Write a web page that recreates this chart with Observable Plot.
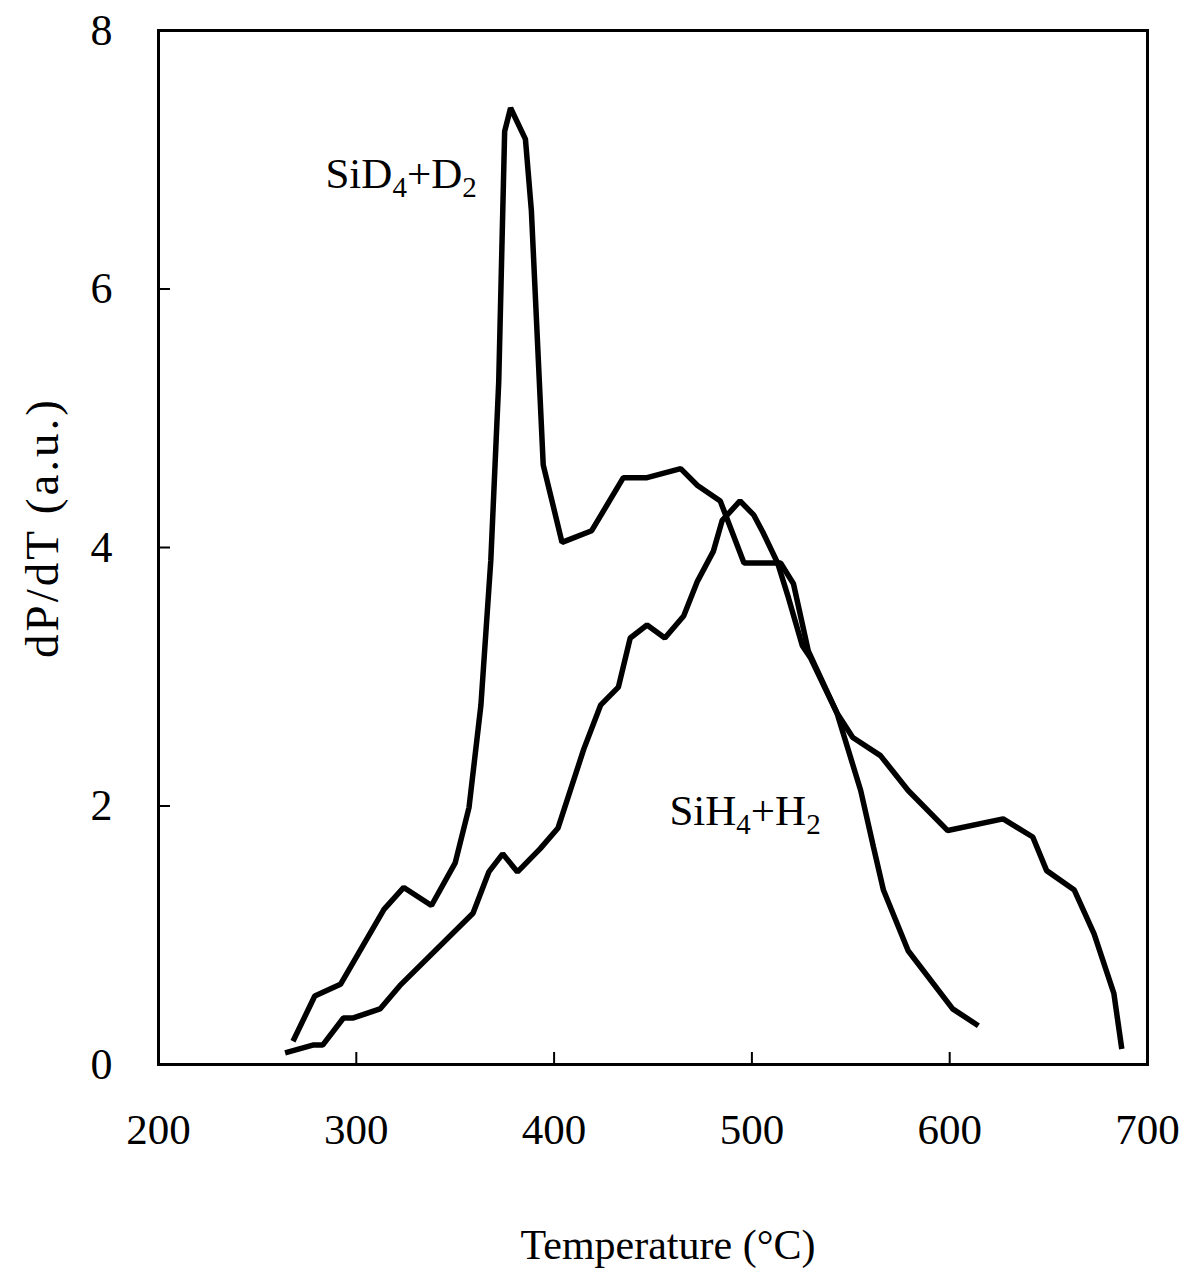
<!DOCTYPE html>
<html><head><meta charset="utf-8">
<script src="https://cdn.jsdelivr.net/npm/d3@7"></script>
<script src="https://cdn.jsdelivr.net/npm/@observablehq/plot@0.6"></script>
<style>html,body{margin:0;padding:0;background:#fff;} #chart svg{display:block}</style>
</head><body><div id="chart"></div>
<script>
// SiD4 + D2 series (temperature °C, dP/dT a.u.)
const sid4T = [268, 279, 292, 314, 324, 338, 350, 357, 363, 368, 372, 375, 378, 385.5, 388.5, 394.5, 404, 419, 435, 447, 464, 472.5, 484, 496, 508, 514.5, 521, 528.5, 543, 551, 565, 579, 599, 627, 642, 649, 663, 673, 683, 687];
const sid4V = [0.18, 0.53, 0.62, 1.20, 1.37, 1.23, 1.56, 1.99, 2.78, 3.90, 5.28, 7.22, 7.40, 7.16, 6.61, 4.64, 4.04, 4.13, 4.54, 4.54, 4.61, 4.48, 4.36, 3.88, 3.88, 3.88, 3.72, 3.20, 2.72, 2.53, 2.39, 2.12, 1.81, 1.90, 1.76, 1.50, 1.35, 1.01, 0.55, 0.12];
// SiH4 + H2 series
const sih4T = [264, 278, 283, 293.5, 298.5, 312, 322, 359, 367, 374, 381.5, 393, 402, 415, 423.5, 432.5, 438.5, 447, 456, 465.5, 472.5, 480.5, 485, 494, 501, 505.5, 513, 518.5, 525.5, 529.5, 543, 555, 561.5, 566.5, 579, 601.5, 614.5];
const sih4V = [0.09, 0.15, 0.15, 0.36, 0.36, 0.43, 0.61, 1.17, 1.49, 1.63, 1.49, 1.67, 1.83, 2.44, 2.78, 2.92, 3.30, 3.40, 3.30, 3.47, 3.74, 3.97, 4.21, 4.36, 4.25, 4.12, 3.88, 3.61, 3.24, 3.15, 2.72, 2.12, 1.68, 1.35, 0.88, 0.43, 0.30];

const seriesNames = ["SiD4+D2", "SiH4+H2"];
const labelT = [284.4, 458.3];
const labelV = [6.78, 1.85];
const xTicks = [200, 300, 400, 500, 600, 700];
const yTicks = [0, 2, 4, 6, 8];
const xTitle = "Temperature (°C)";
const yTitle = "dP/dT (a.u.)";

const rows = [
  ...sid4T.map((T, i) => ({series: seriesNames[0], T, v: sid4V[i]})),
  ...sih4T.map((T, i) => ({series: seriesNames[1], T, v: sih4V[i]}))
];
const labels = seriesNames.map((name, i) => ({name, T: labelT[i], v: labelV[i]}));

const W = 1187, H = 1268, mL = 158, mR = 40, mT = 30, mB = 204;
const innerW = W - mL - mR, innerH = H - mT - mB;
const font = "'Liberation Serif', 'Times New Roman', serif";

const plot = Plot.plot({
  width: W, height: H,
  marginLeft: mL, marginRight: mR, marginTop: mT, marginBottom: mB,
  style: {fontFamily: font, fontSize: "43px", color: "#000", background: "#fff"},
  x: {domain: [200, 700]},
  y: {domain: [0, 8]},
  marks: [
    Plot.frame({stroke: "#000", strokeWidth: 3}),
    Plot.ruleX(xTicks.slice(1, -1), {insetTop: innerH - 12, stroke: "#000", strokeWidth: 2}),
    Plot.ruleY(yTicks.slice(1, -1), {insetRight: innerW - 12, stroke: "#000", strokeWidth: 2}),
    Plot.axisX(xTicks, {tickSize: 0, tickPadding: 49, fontSize: 43, label: null, tickFormat: d => String(d)}),
    Plot.axisY(yTicks, {tickSize: 0, tickPadding: 46, fontSize: 44, label: null, tickFormat: d => String(d)}),
    Plot.line(rows, {x: "T", y: "v", z: "series", stroke: "#000", strokeWidth: 5.5, strokeLinejoin: "miter", strokeLinecap: "butt"}),
    Plot.text(labels, {x: "T", y: "v", text: "name", textAnchor: "start", lineAnchor: "bottom", fontSize: 43}),
    Plot.text([xTitle], {frameAnchor: "bottom", textAnchor: "middle", dx: 15, dy: 194, lineAnchor: "bottom", fontSize: 42}),
    Plot.text([yTitle], {frameAnchor: "left", textAnchor: "middle", lineAnchor: "middle", rotate: -90, dx: -116, dy: -20, fontSize: 47, style: "letter-spacing:3px"})
  ]
});

// letter spacing for the y title
d3.select(plot).selectAll("text").filter(function() { return this.textContent === yTitle; }).attr("letter-spacing", 3);

// render chemical subscripts as tspans
d3.select(plot).selectAll("text").each(function() {
  const t = this.textContent;
  if (!seriesNames.includes(t)) return;
  const sel = d3.select(this);
  sel.text(null);
  let sub = false;
  for (const ch of t) {
    const isDigit = /[0-9]/.test(ch);
    const ts = sel.append("tspan").text(ch);
    if (isDigit && !sub) { ts.attr("dy", 9).attr("font-size", 29); sub = true; }
    else if (isDigit) { ts.attr("font-size", 29); }
    else if (!isDigit && sub) { ts.attr("dy", -9); sub = false; }
  }
});

document.getElementById("chart").appendChild(plot);
</script>
</body></html>
